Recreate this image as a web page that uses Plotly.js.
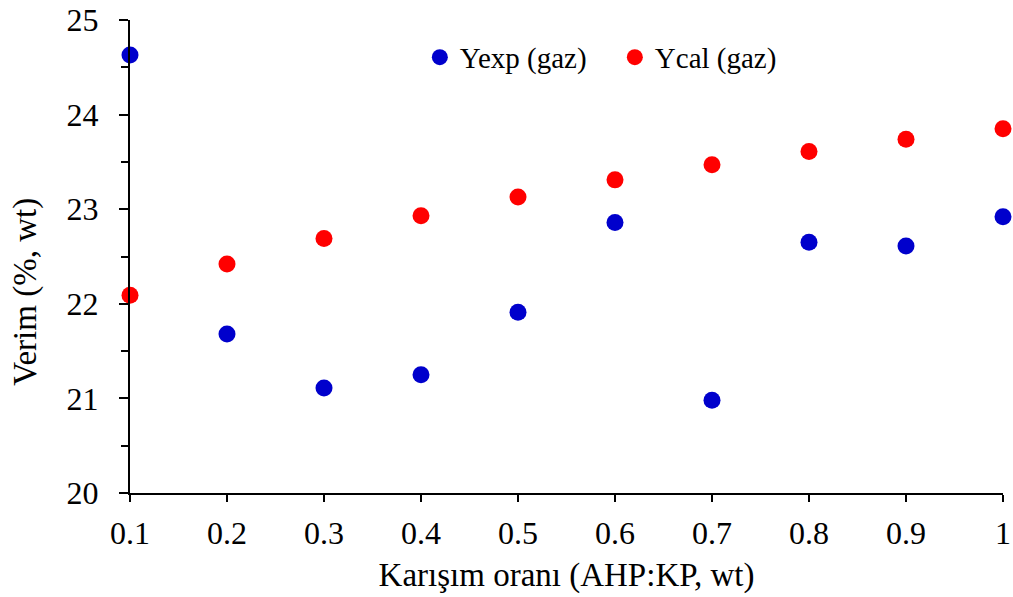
<!DOCTYPE html>
<html>
<head>
<meta charset="utf-8">
<script src="https://cdn.plot.ly/plotly-3.0.1.min.js"></script>
<style>html,body{margin:0;padding:0;background:#fff;}#chart{width:1013px;height:597px;}</style>
</head>
<body>
<div id="chart"></div>
<script>
var ratios = [0.1, 0.2, 0.3, 0.4, 0.5, 0.6, 0.7, 0.8, 0.9, 1.0];
var yexp = [24.63, 21.68, 21.11, 21.25, 21.91, 22.86, 20.98, 22.65, 22.61, 22.92];
var ycal = [22.09, 22.42, 22.69, 22.93, 23.13, 23.31, 23.47, 23.61, 23.74, 23.85];
var xTickVals = [0.1, 0.2, 0.3, 0.4, 0.5, 0.6, 0.7, 0.8, 0.9, 1.0];
var xTickText = ["0.1", "0.2", "0.3", "0.4", "0.5", "0.6", "0.7", "0.8", "0.9", "1"];
var yTickVals = [20, 21, 22, 23, 24, 25];
var yTickText = ["20", "21", "22", "23", "24", "25"];

var fam = "Liberation Serif, Times New Roman, serif";
var tickFont = {family: fam, size: 32, color: "#000"};
var titleFont = {family: fam, size: 33, color: "#000"};
var legendFont = {family: fam, size: 29, color: "#000"};

var traces = [
  {x: ratios, y: yexp, name: "Yexp (gaz)", mode: "markers", type: "scatter", cliponaxis: false,
   marker: {color: "#0000CC", size: 17}},
  {x: ratios, y: ycal, name: "Ycal (gaz)", mode: "markers", type: "scatter", cliponaxis: false,
   marker: {color: "#FF0000", size: 17}}
];

var layout = {
  width: 1013, height: 597,
  margin: {l: 130, r: 10, t: 20, b: 104},
  paper_bgcolor: "#fff", plot_bgcolor: "#fff",
  font: tickFont,
  showlegend: true,
  legend: {orientation: "h", x: 0.332, y: 0.975, xanchor: "left", yanchor: "top",
           font: legendFont, bgcolor: "rgba(0,0,0,0)", itemwidth: 30, tracegroupgap: 0,
           entrywidth: 150},
  xaxis: {
    range: [0.1, 1.0], tickvals: xTickVals, ticktext: xTickText,
    showgrid: false, zeroline: false, showline: true, linecolor: "#000", linewidth: 2,
    ticks: "outside", ticklen: 7, tickwidth: 2, tickcolor: "#000",
    tickfont: tickFont, ticklabelstandoff: 4, ticklabeloverflow: "allow",
    title: {text: "Karışım oranı (AHP:KP, wt)", font: titleFont, standoff: 12}
  },
  yaxis: {
    range: [20, 25], tickvals: yTickVals, ticktext: yTickText,
    showgrid: false, zeroline: false, showline: true, linecolor: "#000", linewidth: 2,
    ticks: "outside", ticklen: 9, tickwidth: 2, tickcolor: "#000",
    tickfont: tickFont, ticklabelstandoff: 14,
    minor: {dtick: 0.5, ticks: "outside", ticklen: 7, tickwidth: 2, tickcolor: "#000", showgrid: false}
  },
  annotations: [{
    text: "Verim (%, wt)", textangle: -90, font: titleFont, showarrow: false,
    xref: "paper", yref: "paper", x: -0.12, y: 0.426, xanchor: "center", yanchor: "middle"
  }]
};

Plotly.newPlot("chart", traces, layout, {displayModeBar: false, staticPlot: true});
</script>
</body>
</html>
